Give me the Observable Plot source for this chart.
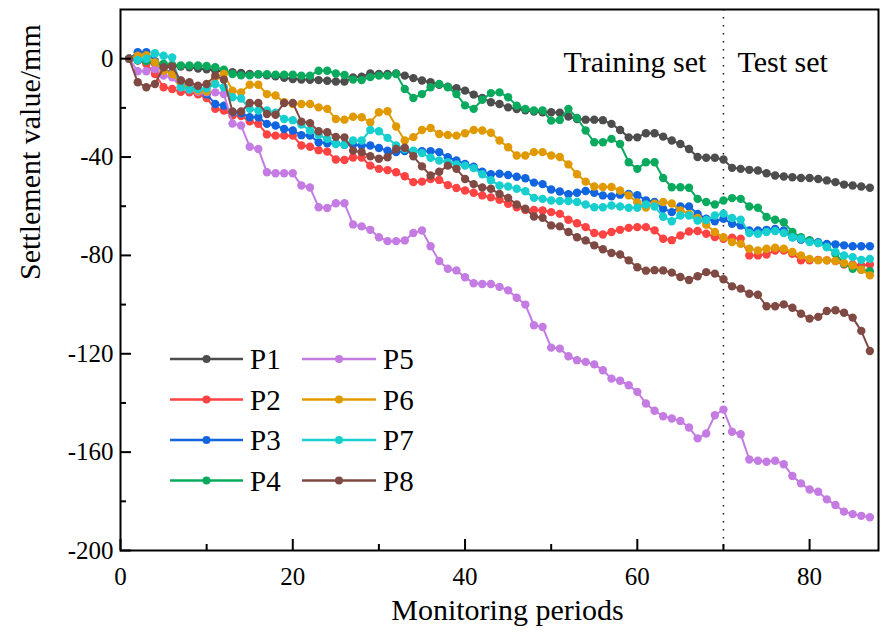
<!DOCTYPE html>
<html><head><meta charset="utf-8">
<script src="https://cdn.jsdelivr.net/npm/d3@7"></script>
<script src="https://cdn.jsdelivr.net/npm/@observablehq/plot@0.6"></script>
<style>
body{margin:0;background:#fff;}
#wrap{position:relative;width:887px;height:637px;overflow:hidden;}
#legend{position:absolute;left:0;top:0;pointer-events:none;}
</style></head>
<body><div id="wrap"></div>
<script>
const periods = d3.range(1, 88);
const seriesNames = ["P1","P2","P3","P4","P5","P6","P7","P8"];
const colors = ["#4d4d4d","#ff4242","#1166e0","#0aaa5e","#c47be2","#e09a00","#17cfcf","#804a44"];

const p1 = [0,-0.8,-1.5,-2,-2.5,-3,-3.2,-3.5,-4,-4.3,-4.8,-5.2,-5.5,-5.8,-6.2,-6.4,-6.8,-7.2,-7.8,-8.3,
-8.5,-8.6,-8.7,-9,-9.3,-9.3,-7.6,-7.3,-6,-6.2,-6.2,-6,-6.9,-7.9,-8.9,-9.6,-10.6,-11.4,-12,-13,
-14.6,-16,-17.7,-18.4,-19.8,-20.5,-21,-21.5,-21.8,-21.8,-22,-23.5,-24.5,-24.8,-24.8,-25,-26.5,-29,-32,-32,
-30.3,-30.3,-31.7,-33.3,-34.7,-36.7,-40,-40.3,-40.3,-41,-44.4,-44.8,-45.2,-45.5,-46.6,-47.5,-47.9,-48.2,-48.5,-48.5,
-48.9,-49.5,-50.2,-51.2,-51.6,-52,-52.5];
const p2 = [0,0.5,-2.2,-6.2,-11.6,-12.3,-13.5,-13.7,-14.5,-16,-20.4,-21.1,-23.1,-23.3,-25.5,-26.5,-30.8,-31.3,-31.3,-31.3,
-35.3,-35.8,-37.2,-37.8,-41,-41.2,-40.2,-40.2,-43.5,-44.8,-45.3,-46.2,-47.8,-50.2,-50,-48.9,-49.3,-51.4,-52.6,-53.6,
-54.5,-55.6,-56.4,-57.4,-59,-60.4,-61.5,-61.5,-61.7,-62.4,-63.1,-65.5,-66.9,-68.5,-70.9,-71.5,-70.5,-69.6,-68.8,-68.5,
-68.5,-69.8,-73.2,-73.8,-71.9,-70.3,-70.1,-71.2,-72.5,-73.2,-72.8,-73.2,-80,-80,-79.6,-78,-78,-79.3,-82,-82,
-81.8,-82,-82.3,-83.7,-83.7,-84.1,-83.7];
const p3 = [0,2.6,2.6,-1,-4,-6,-9,-11,-12.5,-14.5,-18.4,-19.1,-21.8,-22.2,-23.8,-23.8,-26.5,-27.2,-28.6,-29.2,
-31.1,-31.3,-34,-34.4,-34.5,-35,-35,-35.3,-35.3,-36.3,-37.4,-38,-37.6,-37.6,-37.6,-37.6,-38,-40.1,-41.4,-42.8,
-43.9,-46,-47,-46.8,-47.3,-48,-48.6,-50.4,-51,-53.2,-54,-55.1,-54.5,-53.8,-54.5,-55.6,-56,-55.3,-55,-55.5,
-57.6,-58.3,-61,-62.4,-60.1,-60.1,-63.1,-65.1,-66.1,-65.1,-67.1,-67.8,-69.9,-69.9,-69.6,-69.2,-69.9,-72.6,-73.6,-73.9,
-74.6,-75.3,-75.5,-75.9,-76.3,-76.3,-76.3];
const p4 = [0,-0.5,-1,-1.5,-2,-2.5,-2.8,-2.8,-2.8,-3,-3.5,-4.5,-6.2,-6.8,-6.8,-6.3,-6.3,-6.5,-6.5,-6.5,
-6.9,-6.9,-4.9,-4.9,-6,-6.6,-8.5,-8.7,-7.5,-6.9,-6.9,-6.2,-12.3,-16,-14.4,-11.6,-10.3,-11.6,-14.4,-19,
-20.4,-16.7,-14,-13.7,-15.7,-19.1,-20.4,-21.1,-21.1,-25.2,-24.9,-20.4,-24.1,-29.2,-34,-34,-32.6,-34.7,-42.1,-44.8,
-42.1,-42.1,-48.5,-52.3,-52.3,-52.5,-57,-58.3,-59.3,-57.7,-56.7,-57,-60.1,-60.6,-64.4,-65.5,-66.5,-70.5,-72.6,-73.9,
-75,-76.6,-79.3,-83.4,-85.4,-85.8,-86.4];
const p5 = [0,-5.1,-5.1,-4.2,-6.9,-7.6,-11.6,-12.5,-13.5,-13.7,-13.7,-14.4,-26.4,-27.2,-35.8,-36.7,-46.2,-46.6,-46.6,-46.6,
-51.6,-52.4,-60.4,-60.7,-58.8,-58.8,-67.4,-68.2,-69.6,-72.6,-74.2,-74.2,-73.9,-70.9,-69.9,-76.3,-82.3,-85.4,-86.1,-88.9,
-91.3,-91.6,-91.6,-92.8,-94.2,-97.2,-100,-108.4,-109.1,-117.5,-117.9,-121,-122.6,-123.3,-124.3,-126.7,-130.1,-131,-132.8,-135.5,
-140.2,-143.2,-145.4,-146.3,-147.3,-150,-154.4,-152.4,-145,-142.7,-151.7,-152.7,-163,-163.5,-163.9,-163.5,-164.9,-169.7,-172.7,-175.2,
-176.1,-179.2,-181.5,-184.2,-185.2,-185.9,-186.5];
const p6 = [0,1.2,1.4,-1.5,-4.9,-6.2,-10.3,-12,-13,-13.3,-7.6,-6.2,-13,-13.7,-10.6,-10.6,-14.4,-15,-17.7,-18.4,
-18.4,-18.4,-19.8,-20.4,-24.5,-24.8,-23.6,-23.8,-25.9,-21.8,-21.4,-27.6,-33.3,-31.9,-29,-28.2,-30.6,-31,-31.3,-30.3,
-29,-29.2,-30.1,-33.3,-36,-39.4,-39.4,-38,-38,-39.4,-40,-43,-47,-50,-52,-52.2,-52.2,-53.6,-55.6,-58.5,
-60.5,-59,-58.3,-58.9,-61.7,-63.1,-64.8,-67.5,-70.5,-72.6,-74.6,-75.3,-77.3,-78,-77.3,-76.9,-77.3,-78.6,-80,-81.4,
-82,-82,-82.3,-83.1,-84.1,-85.8,-88.1];
const p7 = [0,-0.5,0,2.2,1.2,0.5,-11.6,-12.5,-12.3,-12,-10.3,-11.6,-15.7,-16.2,-20.4,-21.1,-21.1,-22,-24.5,-25,
-26.8,-29.2,-31,-32.6,-34.7,-34.9,-33.3,-33.3,-29,-29.5,-32.2,-35.3,-36.7,-37.4,-38.4,-40.3,-41.4,-42.1,-43,-43.5,
-44.5,-47,-49.4,-51.6,-52,-52.9,-53.9,-56.6,-57,-57.7,-57.9,-57.9,-58.3,-59.3,-60.4,-60.4,-59.7,-60.1,-60.6,-60.6,
-59.3,-60.1,-64.3,-66.1,-63.8,-63.8,-65.8,-65.6,-63.8,-63,-64.8,-65.5,-70.9,-71.2,-70.5,-70.1,-70.9,-72.6,-73.2,-74.6,
-75,-76.6,-78.6,-80,-80.7,-81.8,-81.4];
const p8 = [0,-9.6,-11.6,-10.3,-3.5,-3.2,-8.9,-9.6,-11,-10.3,-6.9,-8.5,-21.5,-21.5,-18,-18,-22.5,-22.8,-18,-18,
-25.6,-26.2,-29.5,-29.9,-31.8,-32,-37.4,-38,-39.7,-40.7,-40.1,-36.7,-36.2,-39.7,-43.8,-47.5,-46,-43.5,-44.8,-48.9,
-51,-52.4,-52.9,-55,-56.6,-59.3,-61,-64.2,-64.7,-67.8,-68.2,-70.5,-72.6,-73.9,-75.9,-77.5,-79,-79.6,-82,-84.8,
-86.2,-86,-86.1,-87,-88.8,-90,-88.5,-86.8,-87.4,-89.7,-92.6,-93.5,-95.6,-96,-100.7,-100.7,-99.9,-101.3,-103.7,-105.7,
-105,-102.6,-102.3,-103.3,-105.3,-110.7,-118.9];

const xTicks = [0,20,40,60,80];
const xMinorTicks = [10,30,50,70];
const yTicks = [0,-40,-80,-120,-160,-200];
const yMinorTicks = [-20,-60,-100,-140,-180];
const splitPeriod = 70;
const xLabel = "Monitoring periods";
const yLabel = "Settlement value/mm";
const annotations = [{x: splitPeriod, label: "Training set", side: "end"}, {x: splitPeriod, label: "Test set", side: "start"}];

const values = [p1,p2,p3,p4,p5,p6,p7,p8];
const series = seriesNames.map((name, i) => ({
  name, color: colors[i],
  rows: periods.map((p, j) => ({period: p, value: values[i][j]}))
}));

const serif = "'Liberation Serif','Times New Roman',serif";
const marks = [
  Plot.ruleX([splitPeriod], {stroke: "#222", strokeWidth: 1.6, strokeDasharray: "1.6,6.4"})
];
for (const s of series) {
  marks.push(Plot.line(s.rows, {x: "period", y: "value", stroke: s.color, strokeWidth: 2}));
  marks.push(Plot.dot(s.rows, {x: "period", y: "value", fill: s.color, r: 4.2}));
}
marks.push(
  Plot.frame({stroke: "black", strokeWidth: 2}),
  Plot.axisX(xTicks, {tickSize: -11, tickPadding: 28, fontSize: 25, strokeWidth: 2, label: null, tickFormat: d => String(d)}),
  Plot.axisX(xMinorTicks, {tickSize: -6, strokeWidth: 2, label: null, tickFormat: () => ""}),
  Plot.axisY(yTicks, {tickSize: -11, tickPadding: 18, fontSize: 25, strokeWidth: 2, label: null, tickFormat: d => String(d)}),
  Plot.axisY(yMinorTicks, {tickSize: -6, strokeWidth: 2, label: null, tickFormat: () => ""}),
  Plot.text([xLabel], {frameAnchor: "bottom", dy: 69, dx: 8, fontSize: 30, text: d => d}),
  Plot.text([yLabel], {frameAnchor: "left", dx: -90, rotate: -90, fontSize: 30, text: d => d}),
  Plot.text(annotations, {x: "x", frameAnchor: "top", dy: 41, text: "label",
    textAnchor: "end", fontSize: 30, filter: d => d.side === "end", dx: -17}),
  Plot.text(annotations, {x: "x", frameAnchor: "top", dy: 41, text: "label",
    textAnchor: "start", fontSize: 30, filter: d => d.side === "start", dx: 14})
);

const chart = Plot.plot({
  width: 887, height: 637,
  marginLeft: 120, marginRight: 9, marginTop: 9, marginBottom: 87,
  x: {domain: [0, 88], axis: null},
  y: {domain: [-200, 20], axis: null},
  style: {fontFamily: serif, fontSize: "25px", color: "black", background: "white"},
  marks
});
const wrap = document.getElementById("wrap");
wrap.appendChild(chart);

// legend overlay
const lg = d3.select(wrap).append("svg").attr("id", "legend").attr("width", 887).attr("height", 637);
const colX = [{x1: 170, x2: 243, tx: 250}, {x1: 302, x2: 376, tx: 383}];
seriesNames.forEach((name, i) => {
  const c = colX[Math.floor(i / 4)];
  const y = 359 + (i % 4) * 40.5;
  const g = lg.append("g");
  g.append("line").attr("x1", c.x1).attr("x2", c.x2).attr("y1", y).attr("y2", y)
    .attr("stroke", colors[i]).attr("stroke-width", 2.5);
  g.append("circle").attr("cx", (c.x1 + c.x2) / 2).attr("cy", y).attr("r", 4).attr("fill", colors[i]);
  g.append("text").attr("x", c.tx).attr("y", y).attr("dy", "0.35em")
    .attr("font-family", serif).attr("font-size", 29).attr("fill", "black").text(name);
});
</script>
</body></html>
